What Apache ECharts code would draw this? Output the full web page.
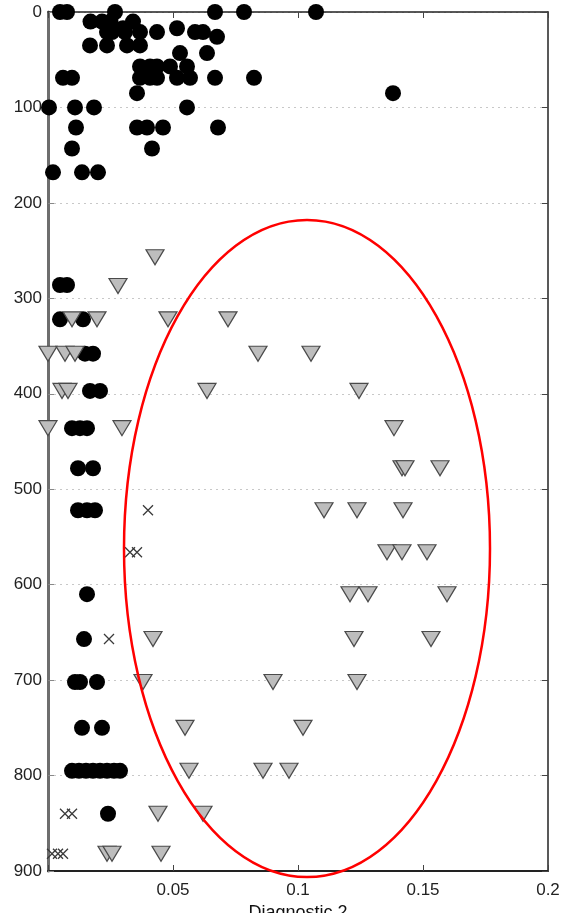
<!DOCTYPE html>
<html>
<head>
<meta charset="utf-8">
<script src="https://cdn.jsdelivr.net/npm/echarts@6/dist/echarts.min.js"></script>
<style>
html,body{margin:0;padding:0;background:#fff;overflow:hidden;}
#chart{width:561px;height:913px;}
</style>
</head>
<body>
<div id="chart"></div>
<script>
// ---- data (x = diagnostic 2, y = depth) ----
const xTickLabels = ['', '0.05', '0.1', '0.15', '0.2'];
const yTickLabels = ['0', '100', '200', '300', '400', '500', '600', '700', '800', '900'];
const xAxisTitle = 'Diagnostic 2';

const circles = [
 [0.0048,0],[0.0076,0],[0.0268,0],[0.0668,0],[0.0784,0],[0.1072,0],
 [0.017,10],[0.0216,10],[0.025,10],[0.034,10],
 [0.03,17],[0.0516,17],
 [0.0236,21],[0.0256,21],[0.0308,21],[0.0368,21],[0.0436,21],[0.0588,21],[0.062,21],
 [0.0676,26],
 [0.0168,35],[0.0236,35],[0.0316,35],[0.0368,35],
 [0.0528,43],[0.0636,43],
 [0.0368,57],[0.0408,57],[0.0436,57],[0.0488,57],[0.0556,57],
 [0.006,69],[0.0096,69],[0.0368,69],[0.0408,69],[0.0436,69],[0.0516,69],[0.0568,69],[0.0668,69],[0.0824,69],
 [0.0356,85],[0.138,85],
 [0.0004,100],[0.0108,100],[0.0184,100],[0.0556,100],
 [0.0112,121],[0.0356,121],[0.0396,121],[0.046,121],[0.068,121],
 [0.0096,143],[0.0416,143],
 [0.002,168],[0.0136,168],[0.02,168],
 [0.0048,286],[0.0076,286],
 [0.0048,322],[0.014,322],
 [0.0148,358],[0.018,358],
 [0.0168,397],[0.0208,397],
 [0.0096,436],[0.0128,436],[0.0156,436],
 [0.012,478],[0.018,478],
 [0.012,522],[0.0156,522],[0.0188,522],
 [0.0156,610],
 [0.0144,657],
 [0.0108,702],[0.0128,702],[0.0196,702],
 [0.0136,750],[0.0216,750],
 [0.0096,795],[0.0124,795],[0.0152,795],[0.018,795],[0.0208,795],[0.0236,795],[0.0264,795],[0.0288,795],
 [0.024,840]
];

const triangles = [
 [0.0428,257],[0.028,287],
 [0.0096,322],[0.0196,322],[0.048,322],[0.072,322],
 [0.0,358],[0.0068,358],[0.0108,358],[0.084,358],[0.1052,358],
 [0.0056,397],[0.008,397],[0.0636,397],[0.1244,397],
 [0.0,436],[0.0296,436],[0.1384,436],
 [0.1416,478],[0.1428,478],[0.1568,478],
 [0.1104,522],[0.1236,522],[0.142,522],
 [0.1356,566],[0.1416,566],[0.1516,566],
 [0.1208,610],[0.128,610],[0.1596,610],
 [0.042,657],[0.1224,657],[0.1532,657],
 [0.038,702],[0.09,702],[0.1236,702],
 [0.0548,750],[0.102,750],
 [0.0564,795],[0.086,795],[0.0964,795],
 [0.044,840],[0.062,840],
 [0.0236,882],[0.0256,882],[0.0452,882]
];

const crosses = [
 [0.04,522],[0.0328,566],[0.0356,566],[0.0244,657],
 [0.0068,840],[0.0096,840],
 [0.0016,882],[0.004,882],[0.006,882]
];

// ---- chart ----
const chart = echarts.init(document.getElementById('chart'), null, {renderer: 'canvas'});
const FONT = "'Liberation Sans', Arial, Helvetica, sans-serif";
const xLabel = v => { const i = Math.round(v / 0.05); return xTickLabels[i] !== undefined ? xTickLabels[i] : ''; };
const yLabel = v => { const i = Math.round(v / 100); return yTickLabels[i] !== undefined ? yTickLabels[i] : ''; };

const option = {
  backgroundColor: '#ffffff',
  animation: false,
  grid: {left: 48, right: 13, top: 12, bottom: 42, containLabel: false, outerBoundsMode: 'none'},
  xAxis: [
    {
      type: 'value', min: 0, max: 0.2, interval: 0.05, position: 'bottom',
      name: xAxisTitle, nameLocation: 'middle', nameGap: 32,
      nameTextStyle: {fontFamily: FONT, fontSize: 18, color: '#111'},
      axisLine: {show: true, onZero: false, lineStyle: {color: '#222', width: 2}},
      axisTick: {show: true, inside: true, length: 6, lineStyle: {color: '#444'}},
      axisLabel: {show: true, formatter: xLabel, margin: 11, fontFamily: FONT, fontSize: 17, color: '#222'},
      splitLine: {show: false}
    },
    {
      type: 'value', min: 0, max: 0.2, interval: 0.05, position: 'top',
      axisLine: {show: true, onZero: false, lineStyle: {color: '#222', width: 1.5}},
      axisTick: {show: true, inside: true, length: 6, lineStyle: {color: '#444'}},
      axisLabel: {show: false},
      splitLine: {show: false}
    }
  ],
  yAxis: [
    {
      type: 'value', min: 0, max: 900, interval: 100, inverse: true, position: 'left',
      axisLine: {show: true, onZero: false, lineStyle: {color: '#6e6e6e', width: 3}},
      axisTick: {show: true, inside: true, length: 6, lineStyle: {color: '#888'}},
      axisLabel: {show: true, formatter: yLabel, margin: 6, fontFamily: FONT, fontSize: 17, color: '#222'},
      splitLine: {show: true, lineStyle: {color: '#c8c8c8', type: [2, 4], width: 1}}
    },
    {
      type: 'value', min: 0, max: 900, interval: 100, inverse: true, position: 'right',
      axisLine: {show: true, onZero: false, lineStyle: {color: '#222', width: 1.5}},
      axisTick: {show: true, inside: true, length: 6, lineStyle: {color: '#444'}},
      axisLabel: {show: false},
      splitLine: {show: false}
    }
  ],
  series: [
    {
      type: 'scatter', name: 'circles', data: circles, clip: false,
      symbol: 'circle', symbolSize: 16,
      itemStyle: {color: '#000000', opacity: 1},
      z: 3
    },
    {
      type: 'scatter', name: 'triangles', data: triangles, clip: false,
      symbol: 'triangle', symbolRotate: 180, symbolSize: [18, 15],
      itemStyle: {color: '#bdbdbd', borderColor: '#4a4a4a', borderWidth: 1.2, opacity: 1},
      z: 4
    },
    {
      type: 'scatter', name: 'crosses', data: crosses, clip: false,
      symbol: 'path://M0,0L10,10M10,0L0,10', symbolSize: 10,
      itemStyle: {color: 'transparent', borderColor: '#3a3a3a', borderWidth: 1.3, opacity: 1},
      z: 5
    }
  ],
  graphic: [
    {
      type: 'ellipse', z: 100, silent: true,
      shape: {cx: 307, cy: 548.5, rx: 183, ry: 328.5},
      style: {fill: 'none', stroke: '#ff0000', lineWidth: 2.5}
    }
  ]
};
chart.setOption(option);
</script>
</body>
</html>
